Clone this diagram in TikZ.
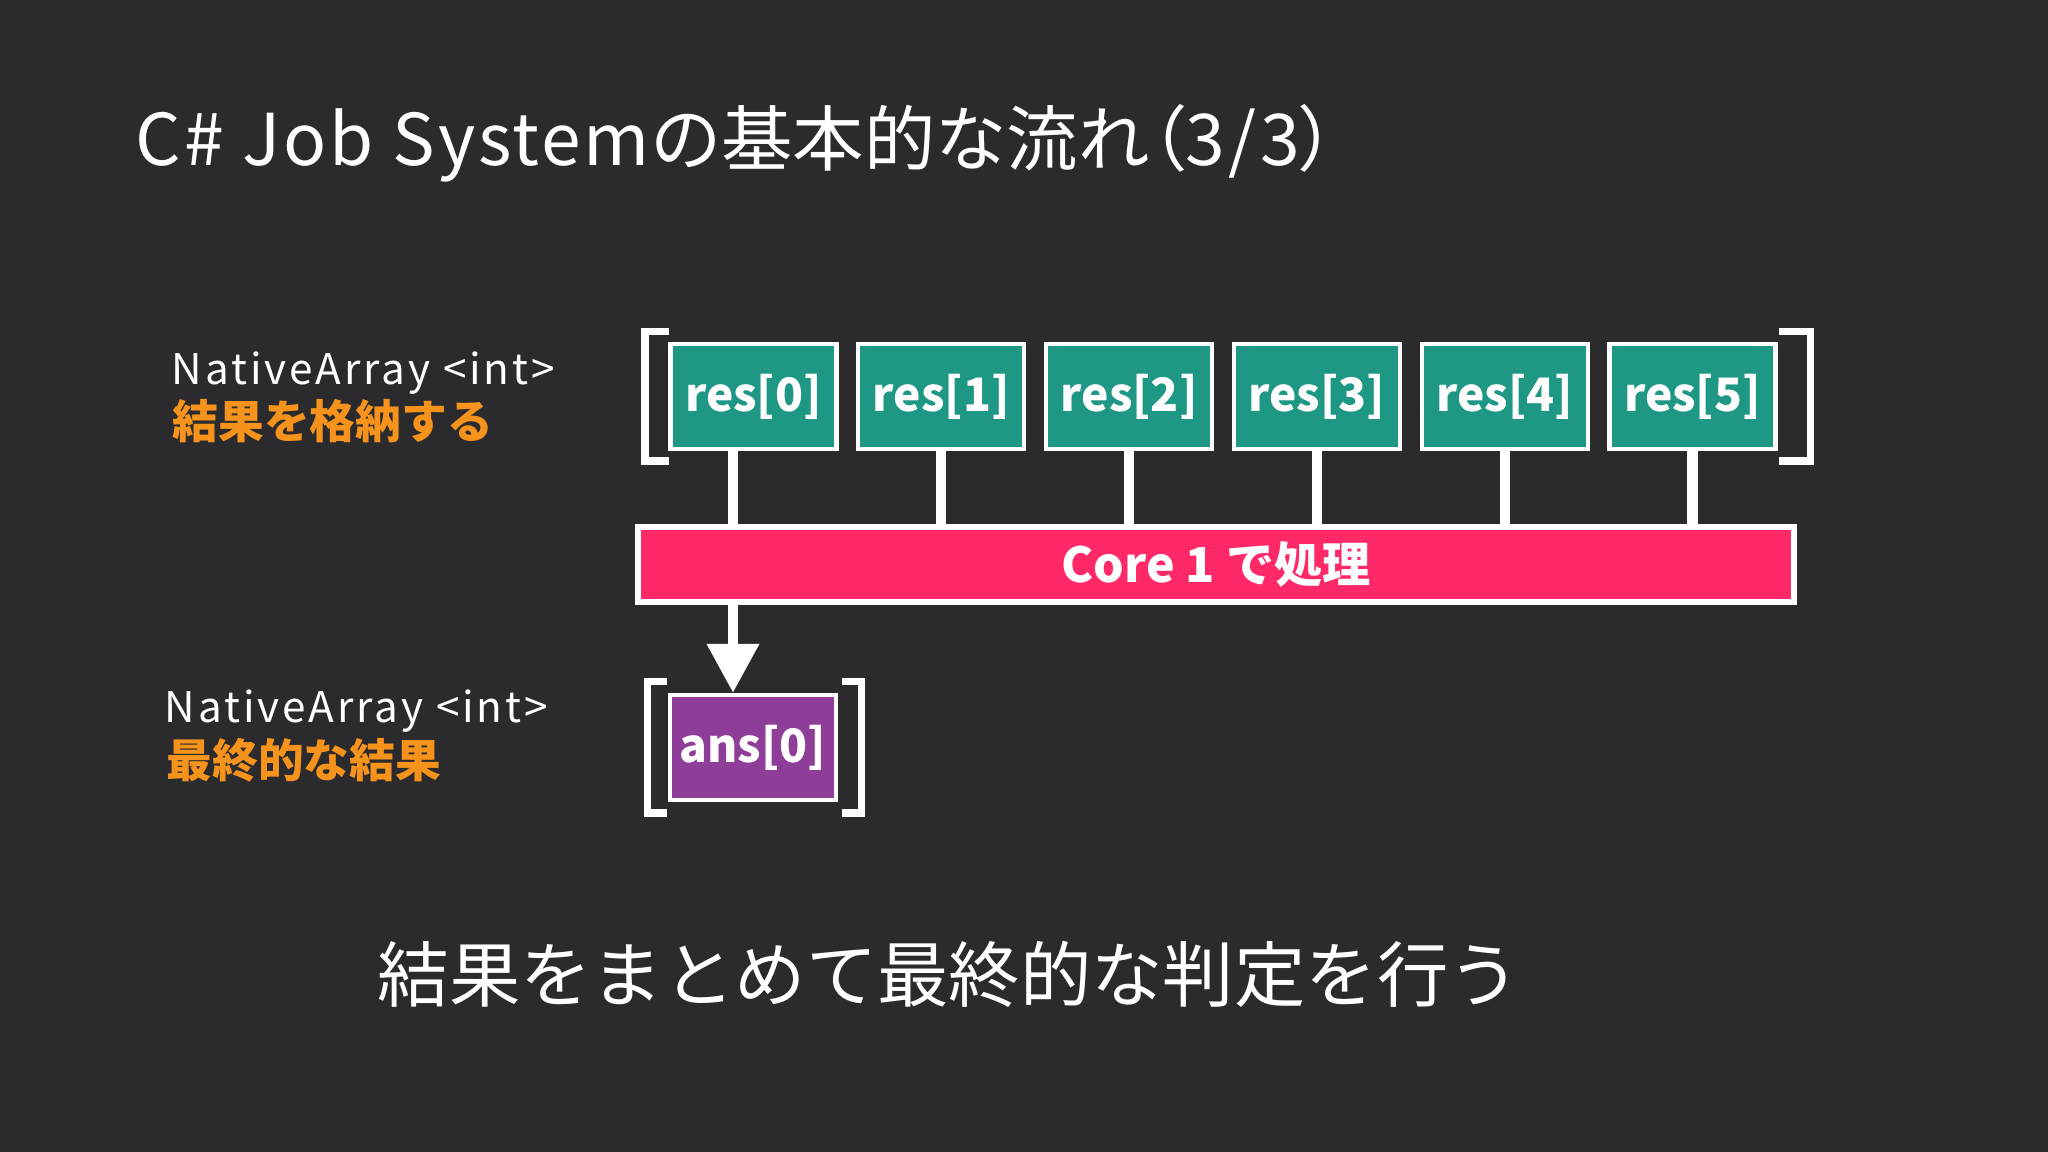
\documentclass[tikz,border=0pt]{standalone}
\usepackage{fontspec}
\setmainfont{Noto Sans CJK JP}
\usetikzlibrary{arrows.meta}
\definecolor{bg}{HTML}{2B2A2D}
\definecolor{teal}{HTML}{1E9784}
\definecolor{corepink}{HTML}{FF2968}
\definecolor{ansviolet}{HTML}{8E3D98}
\definecolor{lblorange}{HTML}{F5931C}
\tikzset{
  cell/.style={draw=white, line width=1.2pt, fill=teal, text=white, inner sep=0pt,
    minimum width=1.66cm, minimum height=1.05cm, font=\bfseries\fontsize{13.1pt}{16pt}\selectfont},
  ansbox/.style={cell, fill=ansviolet},
  corebar/.style={draw=white, line width=1.7pt, fill=corepink, text=white, inner sep=0pt,
    minimum width=11.56cm, minimum height=0.75cm, font=\bfseries\fontsize{13.7pt}{16pt}\selectfont},
  stem/.style={draw=white, line width=2.9pt},
  bracket/.style={draw=white, line width=2pt},
  arrayname/.style={text=white, inner sep=0pt, anchor=base west, font=\fontsize{12pt}{14pt}\selectfont\addfontfeature{LetterSpace=7}},
  arraynote/.style={text=lblorange, inner sep=0pt, anchor=base west, font=\bfseries\fontsize{13pt}{15pt}\selectfont},
  bigtext/.style={text=white, inner sep=0pt, anchor=base west, font=\fontsize{20.3pt}{24pt}\selectfont},
}
\newcommand\paltchar[1]{{\addfontfeature{RawFeature=+palt}#1}}
\begin{document}
\begin{tikzpicture}[x=0.01cm,y=-0.01cm]
\fill[bg] (0,0) rectangle (2048,1152);
\useasboundingbox (0,0) rectangle (2048,1152);

\node[bigtext] (title) at (135,166) {{\addfontfeature{LetterSpace=4}C\# Job System}の基本的な流れ\paltchar{（}{\addfontfeature{LetterSpace=5}3/3}\paltchar{）}};

\node[arrayname] (na1) at (171,385) {NativeArray <int>};
\node[arraynote] (note1) at (172,439) {結果を格納する};
\node[arrayname] (na2) at (164,722) {NativeArray <int>};
\node[arraynote] (note2) at (166,777) {最終的な結果};

\foreach \i/\x in {0/753.5,1/941.3,2/1129.1,3/1316.9,4/1504.7,5/1692.5}
  \node[cell] (r\i) at (\x,396.5) {res[\i]};

\node[corebar] (core) at (1216,564.5) {Core 1 で処理};

\node[ansbox] (ans) at (753,747.5) {ans[0]};

% stems
\draw[stem] ([xshift=-0.205cm]r0.south) -- ([xshift=-0.205cm]r0.south |- core.north);
\foreach \i in {1,...,5}
  \draw[stem] (r\i.south) -- (r\i.south |- core.north);

% arrow
\draw[stem, -{Triangle[length=0.49cm, width=0.5cm]}] ([xshift=-0.205cm]r0.south |- core.south) -- ([xshift=-0.205cm]r0.south |- ans.north);

% brackets
\draw[bracket] (669,331.5) -- (645,331.5) -- (645,461) -- (669,461);
\draw[bracket] (1779,331.5) -- (1810,331.5) -- (1810,461) -- (1779,461);
\draw[bracket] (667,681.5) -- (647.5,681.5) -- (647.5,813) -- (667,813);
\draw[bracket] (842,681.5) -- (861.5,681.5) -- (861.5,813) -- (842,813);

\node[bigtext] (summary) at (377,1001) {結果をまとめて最終的な判定を行う};
\end{tikzpicture}
\end{document}
